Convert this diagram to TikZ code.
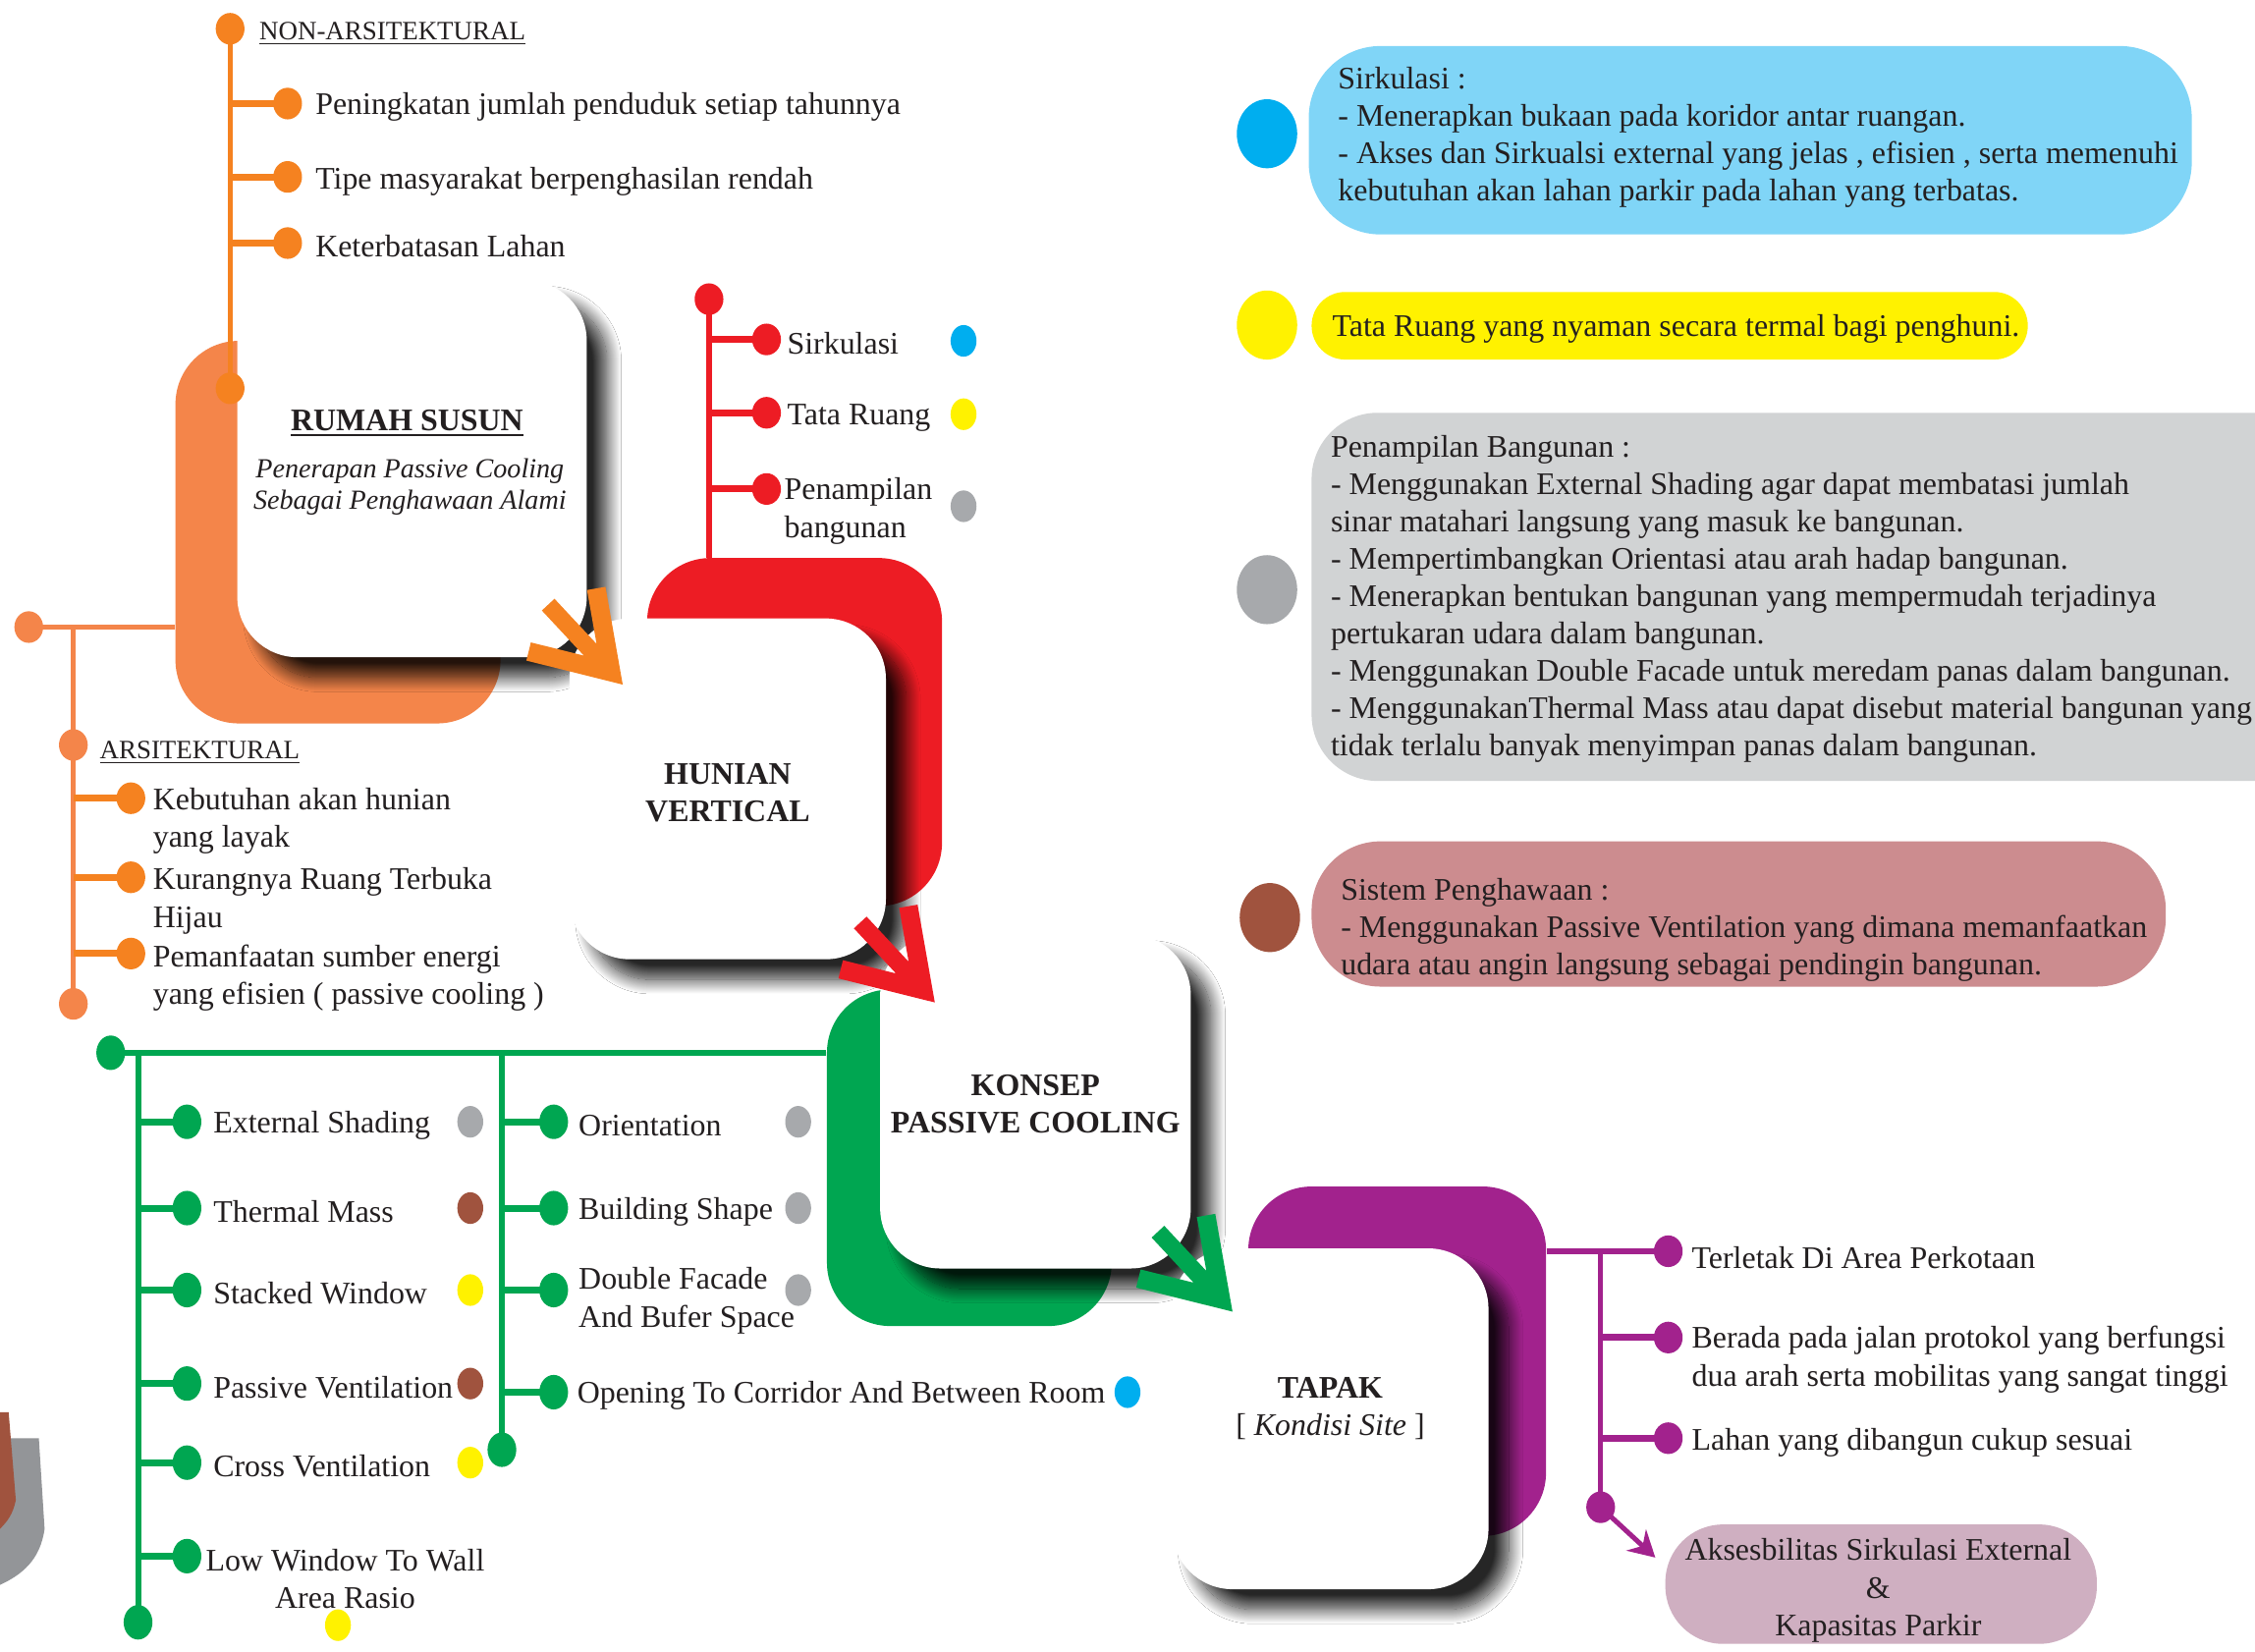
\documentclass[tikz,border=0pt]{standalone}
\usepackage{fontspec}
\setmainfont{Liberation Serif}
\usetikzlibrary{shapes.geometric,shadows.blur,arrows.meta}
\definecolor{txt}{HTML}{231F20}
\definecolor{orA}{HTML}{F58220}
\definecolor{orB}{HTML}{F4854A}
\definecolor{rdA}{HTML}{ED1C24}
\definecolor{grA}{HTML}{00A651}
\definecolor{puA}{HTML}{A2228D}
\definecolor{blDot}{HTML}{00AEEF}
\definecolor{blBox}{HTML}{80D5F7}
\definecolor{ylA}{HTML}{FFF200}
\definecolor{gyDot}{HTML}{A7A9AC}
\definecolor{gyBox}{HTML}{D1D3D4}
\definecolor{brDot}{HTML}{A0533E}
\definecolor{pkBox}{HTML}{CC8C8F}
\definecolor{liBox}{HTML}{CFAFC1}
\definecolor{shGray}{HTML}{939598}
\newcommand\myFatArrow[3]{%
  \fill[#1,shift={(#2,#3)},rotate=-47] (0,0) -- (-57.9,-37.6) -- (-65,-26.7) -- (-33.1,-6) -- (-76,-6) -- (-76,6) -- (-33.1,6) -- (-65,26.7) -- (-57.9,37.6) -- cycle;}
\tikzset{
  txtbase/.style={font=\fontsize{10.9}{13.2}\selectfont, text=txt, inner sep=0pt, yshift=-1.2pt},
  lbl/.style={txtbase, anchor=west, align=left},
  hdr/.style={txtbase, anchor=west, font=\fontsize{9.2}{11}\selectfont},
  ttl/.style={txtbase, align=center, font=\fontsize{10.9}{13}\selectfont\bfseries},
  blob/.style={ellipse, inner sep=0pt, minimum width=10pt, minimum height=11pt, fill=#1},
  gblob/.style={ellipse, inner sep=0pt, minimum width=10pt, minimum height=12pt, fill=#1},
  cue/.style={ellipse, inner sep=0pt, minimum width=9pt, minimum height=11pt, fill=#1},
  bigcue/.style={ellipse, inner sep=0pt, minimum width=21pt, minimum height=24pt, fill=#1},
  backshape/.style={rectangle, rounded corners=22pt, fill=#1, inner sep=0pt},
  card/.style={rectangle, rounded corners=21pt, fill=white, inner sep=0pt,
    blur shadow={shadow xshift=7pt, shadow yshift=-7pt, shadow blur radius=5pt, shadow blur steps=20, shadow opacity=85}},
  info/.style={rectangle, fill=#1, inner sep=0pt},
  spine/.style={line width=1.8pt, draw=#1},
  stub/.style={line width=2.4pt, draw=#1},
}
\begin{document}
\begin{tikzpicture}[x=0.5pt,y=-0.5pt]
\useasboundingbox (0,0) rectangle (1568,1148);
\clip (0,0) rectangle (1568,1148);
\fill[white] (0,0) rectangle (1568,1148);

% partial shape at left edge
\fill[shGray] (0,1000) -- (27,1000) -- (31,1063) .. controls (28,1085) and (15,1095) .. (0,1102) -- cycle;
\fill[brDot] (0,982) -- (6,982) -- (11,1043) .. controls (9,1053) and (5,1058) .. (0,1063) -- cycle;

% shapes and cards
\node[backshape=orB, minimum width=113pt, minimum height=133pt] (oBack) at (235,370) {};
\node[card, minimum width=121.5pt, minimum height=131pt] (oCard) at (286.5,326) {};
\node[backshape=rdA, minimum width=102.5pt, minimum height=121pt] (rBack) at (552.5,509) {};
\node[card, minimum width=110pt, minimum height=118.5pt] (rCard) at (506,548.5) {};
\node[backshape=grA, minimum width=99pt, minimum height=117pt] (gBack) at (674,805) {};
\node[card, minimum width=108pt, minimum height=116pt] (gCard) at (720,766) {};
\node[backshape=puA, minimum width=103.5pt, minimum height=121.5pt] (pBack) at (971.5,946.5) {};
\node[card, minimum width=110pt, minimum height=118.5pt] (pCard) at (925,986.5) {};

% fat arrows
\myFatArrow{orA}{433}{476}
\myFatArrow{rdA}{650}{697}
\myFatArrow{grA}{857}{912}

% card texts
\node[ttl] (oTitle) at (283,292) {\underline{RUMAH SUSUN}};
\node[txtbase, align=center, font=\fontsize{9.6}{11}\selectfont\itshape] (oSub) at (285,336) {Penerapan Passive Cooling\\Sebagai Penghawaan Alami};
\node[ttl] (rTitle) at (506,549) {HUNIAN\\VERTICAL};
\node[ttl] (gTitle) at (720,765) {KONSEP\\PASSIVE COOLING};
\node[txtbase, align=center] (pTitle) at (925,977) {\textbf{TAPAK}\\{[} \textit{Kondisi Site} {]}};

% ---------- orange top ----------
\coordinate (T0) at (160,20);
\coordinate (T4) at (160,270);
\draw[spine=orA] (T0) -- (T4);
\foreach \i/\y in {1/72,2/123,3/169}{
  \coordinate (Tj\i) at (160,\y);
  \coordinate (T\i) at (200,\y);
  \draw[stub=orA] (Tj\i) -- (T\i);
  \node[blob=orA] (dT\i) at (T\i) {};
}
\node[blob=orA] (dT0) at (T0) {};
\node[blob=orA] (dT4) at (T4) {};
\node[hdr] (tHdr) at (180,21) {\underline{NON-ARSITEKTURAL}};
\node[lbl] (tT1) at (219,72) {Peningkatan jumlah penduduk setiap tahunnya};
\node[lbl] (tT2) at (219,124) {Tipe masyarakat berpenghasilan rendah};
\node[lbl] (tT3) at (219,169) {Keterbatasan Lahan};

% ---------- orange left ----------
\coordinate (L0) at (20,436);
\coordinate (Lj0) at (51,436);
\coordinate (L5) at (51,698);
\coordinate (LA) at (51,518);
\draw[spine=orB] (L0) -- (L0 -| oBack.west);
\draw[spine=orB] (Lj0) -- (L5);
\foreach \i/\y in {1/555,2/610,3/663}{
  \coordinate (Lj\i) at (51,\y);
  \coordinate (L\i) at (91,\y);
  \draw[stub=orA] (Lj\i) -- (L\i);
  \node[blob=orA] (dL\i) at (L\i) {};
}
\node[blob=orB] (dL0) at (L0) {};
\node[blob=orB] (dLA) at (LA) {};
\node[blob=orB] (dL5) at (L5) {};
\node[hdr] (lHdr) at (69,521) {\underline{ARSITEKTURAL}};
\node[lbl] (tL1) at (106,568.5) {Kebutuhan akan hunian\\yang layak};
\node[lbl] (tL2) at (106,624) {Kurangnya Ruang Terbuka\\Hijau};
\node[lbl] (tL3) at (106,677.5) {Pemanfaatan sumber energi\\yang efisien ( passive cooling )};

% ---------- red ----------
\coordinate (R0) at (493,208);
\draw[spine=rdA] (R0) -- (R0 |- rBack.north);
\foreach \i/\y in {1/236,2/287,3/340}{
  \coordinate (Rj\i) at (493,\y);
  \coordinate (R\i) at (533,\y);
  \draw[stub=rdA] (Rj\i) -- (R\i);
  \node[blob=rdA] (dR\i) at (R\i) {};
}
\node[blob=rdA] (dR0) at (R0) {};
\node[lbl] (tR1) at (547,236) {Sirkulasi};
\node[lbl] (tR2) at (547,288) {Tata Ruang};
\node[lbl] (tR3) at (545,353) {Penampilan\\bangunan};
\node[cue=blDot] (cR1) at (670,237) {};
\node[cue=ylA] (cR2) at (670,288) {};
\node[cue=gyDot] (cR3) at (670,352) {};

% ---------- green ----------
\coordinate (G0) at (77,732);
\coordinate (GLt) at (96,732);
\coordinate (GL) at (96,1128);
\coordinate (GRt) at (349,732);
\coordinate (GR) at (349,1008);
\draw[spine=grA, line width=2pt] (G0) -- (G0 -| gBack.west);
\draw[spine=grA, line width=2pt] (GLt) -- (GL);
\draw[spine=grA, line width=2pt] (GRt) -- (GR);
\foreach \i/\y in {1/780,2/840,3/897,4/962,5/1017,6/1082}{
  \coordinate (GLj\i) at (96,\y);
  \coordinate (GLd\i) at (130,\y);
  \draw[stub=grA] (GLj\i) -- (GLd\i);
  \node[gblob=grA] (dGL\i) at (GLd\i) {};
}
\foreach \i/\y in {1/780,2/840,3/897,4/968}{
  \coordinate (GRj\i) at (349,\y);
  \coordinate (GRd\i) at (385,\y);
  \draw[stub=grA] (GRj\i) -- (GRd\i);
  \node[gblob=grA] (dGR\i) at (GRd\i) {};
}
\node[gblob=grA] (dG0) at (G0) {};
\node[gblob=grA] (dGL) at (GL) {};
\node[gblob=grA] (dGR) at (GR) {};
\node[lbl] (tGL1) at (148,780) {External Shading};
\node[lbl] (tGL2) at (148,840) {Thermal Mass};
\node[lbl] (tGL3) at (148,897) {Stacked Window};
\node[lbl] (tGL4) at (148,962) {Passive Ventilation};
\node[lbl] (tGL5) at (148,1017) {Cross Ventilation};
\node[txtbase, align=center] (tGL6) at (240,1095.5) {Low Window To Wall\\Area Rasio};
\node[lbl] (tGR1) at (402,780) {Orientation};
\node[lbl] (tGR2) at (402,840) {Building Shape};
\node[lbl] (tGR3) at (402,902) {Double Facade\\And Bufer Space};
\node[lbl] (tGR4) at (401,968) {Opening To Corridor And Between Room};
\node[cue=gyDot] (cGL1) at (327,780) {};
\node[cue=brDot] (cGL2) at (327,840) {};
\node[cue=ylA] (cGL3) at (327,897) {};
\node[cue=brDot] (cGL4) at (327,962) {};
\node[cue=ylA] (cGL5) at (327,1017) {};
\node[cue=ylA] (cGL6) at (235,1130) {};
\node[cue=gyDot] (cGR1) at (555,780) {};
\node[cue=gyDot] (cGR2) at (555,840) {};
\node[cue=gyDot] (cGR3) at (555,897) {};
\node[cue=blDot] (cGR4) at (784,968) {};

% ---------- purple ----------
\node[info=liBox, rounded corners=20pt, minimum width=150pt, minimum height=41.5pt] (lBox) at (1308,1101.5) {};
\coordinate (P1) at (1160,870);
\coordinate (Pt) at (1113,870);
\coordinate (P4) at (1113,1048);
\coordinate (PT) at (1151,1083);
\draw[spine=puA] (pBack.east |- P1) -- (P1);
\draw[spine=puA] (Pt) -- (P4);
\draw[puA, line width=1.7pt, -{Stealth[length=9pt,width=10pt,inset=3pt]}] (P4) -- (PT);
\foreach \i/\y in {2/930,3/1000}{
  \coordinate (Pj\i) at (1113,\y);
  \coordinate (P\i) at (1160,\y);
  \draw[stub=puA] (Pj\i) -- (P\i);
  \node[blob=puA] (dP\i) at (P\i) {};
}
\node[blob=puA] (dP1) at (P1) {};
\node[blob=puA] (dP4) at (P4) {};
\node[lbl] (tP1) at (1176,872) {Terletak Di Area Perkotaan};
\node[lbl] (tP2) at (1176,943) {Berada pada jalan protokol yang berfungsi\\dua arah serta mobilitas yang sangat tinggi};
\node[lbl] (tP3) at (1176,1001) {Lahan yang dibangun cukup sesuai};
\node[txtbase, align=center] (tLi) at (1306,1103.5) {Aksesbilitas Sirkulasi External\\\&\\Kapasitas Parkir};

% ---------- right info boxes ----------
\node[info=blBox, rounded corners=25pt, minimum width=307pt, minimum height=65.5pt] (bBox) at (1217,97.5) {};
\node[info=ylA, rounded corners=11.7pt, minimum width=249pt, minimum height=23.5pt] (yBox) at (1161,226.5) {};
\node[info=gyBox, rounded corners=23pt, minimum width=354pt, minimum height=128pt] (gBox) at (1266,415) {};
\node[info=pkBox, rounded corners=24pt, minimum width=297pt, minimum height=50.5pt] (kBox) at (1209,635.5) {};
\node[bigcue=blDot] (cB) at (881,93) {};
\node[bigcue=ylA] (cY) at (881,226) {};
\node[bigcue=gyDot] (cG) at (881,410) {};
\node[bigcue=brDot] (cK) at (883,638) {};
\node[lbl, font=\fontsize{10.9}{13}\selectfont] (tB) at (930,93) {Sirkulasi :\\- Menerapkan bukaan pada koridor antar ruangan.\\- Akses dan Sirkualsi external yang jelas , efisien , serta memenuhi\\kebutuhan akan lahan parkir pada lahan yang terbatas.};
\node[lbl] (tY) at (926,226) {Tata Ruang yang nyaman secara termal bagi penghuni.};
\node[lbl, font=\fontsize{10.9}{13}\selectfont] (tG) at (925,414) {Penampilan Bangunan :\\- Menggunakan External Shading agar dapat membatasi jumlah\\sinar matahari langsung yang masuk ke bangunan.\\- Mempertimbangkan Orientasi atau arah hadap bangunan.\\- Menerapkan bentukan bangunan yang mempermudah terjadinya\\pertukaran udara dalam bangunan.\\- Menggunakan Double Facade untuk meredam panas dalam bangunan.\\- MenggunakanThermal Mass atau dapat disebut material bangunan yang\\tidak terlalu banyak menyimpan panas dalam bangunan.};
\node[lbl, font=\fontsize{10.9}{13}\selectfont] (tK) at (932,644) {Sistem Penghawaan :\\- Menggunakan Passive Ventilation yang dimana memanfaatkan\\udara atau angin langsung sebagai pendingin bangunan.};
\end{tikzpicture}
\end{document}
